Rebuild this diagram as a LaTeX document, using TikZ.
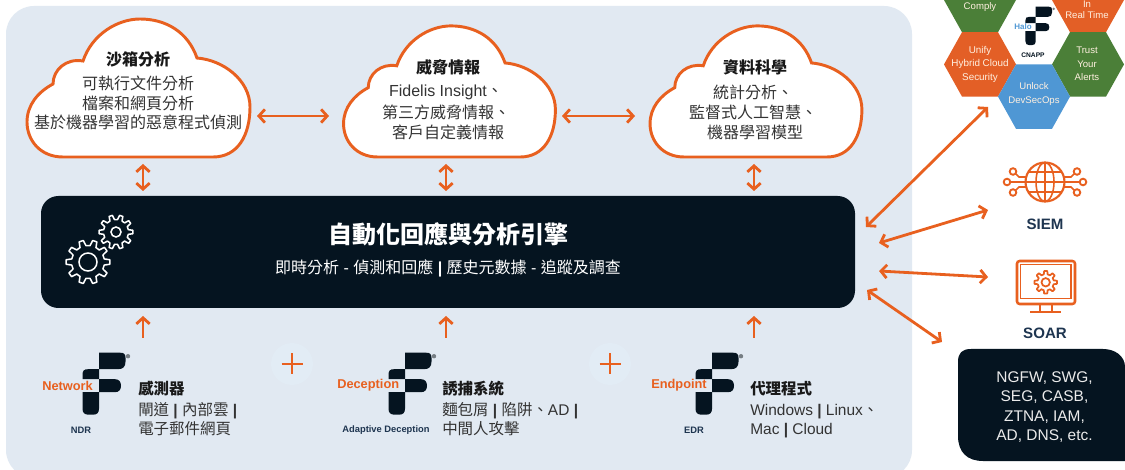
\documentclass[tikz,border=0pt]{standalone}
\usepackage{fontspec}
\usetikzlibrary{arrows.meta,calc}
\setmainfont{Liberation Sans}
\newfontfamily\cjk{Noto Sans CJK TC}
\definecolor{panel}{HTML}{E1E9F2}
\definecolor{plusbg}{HTML}{E2ECF5}
\definecolor{ink}{HTML}{051420}
\definecolor{org}{HTML}{E8601F}
\definecolor{hexorg}{HTML}{E35F26}
\definecolor{hexgrn}{HTML}{4B7F38}
\definecolor{hexblu}{HTML}{4F97D4}
\definecolor{navy}{HTML}{1E3550}
\definecolor{txt}{HTML}{333333}
\newcommand{\fsz}[1]{\fontsize{#1}{#1}\selectfont}
\newcommand{\fbs}[2]{\fontsize{#1}{#2}\selectfont}
\newcommand{\vb}{{\bfseries |}}
\tikzset{
  x=0.75pt,y=-0.75pt,
  link/.style={draw=org,line width=2.1pt,{Straight Barb[length=4.5pt,width=10pt,line width=2.1pt]}-{Straight Barb[length=4.5pt,width=10pt,line width=2.1pt]}},
  uplink/.style={draw=org,line width=2.1pt,-{Straight Barb[length=4.5pt,width=10pt,line width=2.1pt]}},
  cloudline/.style={draw=org,line width=2.2pt,fill=white},
  label/.style={inner sep=0pt,text=txt,align=center},
  head/.style={inner sep=0pt,text=black!90},
  hextxt/.style={inner sep=0pt,text=white!88!orange,align=center},
  icon/.style={draw=org,line width=1.6pt},
  crossmark/.style={draw=org,line width=2.2pt},
  plate/.style={circle,fill=plusbg,minimum size=31.5pt,inner sep=0pt},
  tag/.style={inner sep=0pt,text=org,font=\bfseries\fsz{9.6}},
  sub/.style={inner sep=0pt,text=navy,font=\bfseries\fsz{7}},
  icontxt/.style={inner sep=0pt,text=navy,font=\bfseries\fsz{11.3}},
}
% cloud: #1 centre x, #2 scale (bottom edge fixed at y=157)
\newcommand{\cloudshape}[2]{%
  \begin{scope}[shift={(#1,157)},scale=#2]
  \draw[cloudline] (-75,0)
   .. controls (-98,0) and (-111,-17) .. (-111,-35)
   .. controls (-111,-52) and (-100,-65) .. (-85,-73)
   .. controls (-85,-87) and (-72,-99) .. (-55,-96)
   .. controls (-46,-123) and (-20,-138) .. (2,-138)
   .. controls (28,-138) and (50,-125) .. (59,-99)
   .. controls (85,-97) and (112,-77) .. (112,-50)
   .. controls (112,-22) and (100,0) .. (75,0)
   -- cycle;
  \end{scope}}
% F logo: #1 x, #2 y of top left of the top bar, #3 scale
\newcommand{\flogo}[3]{%
  \begin{scope}[shift={(#1,#2)},scale=#3]
  \fill[ink] (0,0) -- (21,0) .. controls (25,0) and (26.5,1.5) .. (26.5,5) -- (26.5,9)
     .. controls (26.5,14) and (24,16.5) .. (19,16.5) -- (0,16.5) -- cycle;
  \fill[ink] (0,16.5) -- (0,26.5) -- (-16.5,26.5) -- (-16.5,22) .. controls (-16.5,18) and (-15,16.5) .. (-11,16.5) -- cycle;
  \fill[ink] (0,26.5) -- (16,26.5) .. controls (20,26.5) and (22,29) .. (22,33) .. controls (22,37) and (20,39.5) .. (16,39.5) -- (0,39.5) -- cycle;
  \fill[ink] (0,39.5) -- (0,56) .. controls (0,60) and (-2,62) .. (-6,62) -- (-10.5,62) .. controls (-14.5,62) and (-16.5,60) .. (-16.5,56) -- (-16.5,39.5) -- cycle;
  \fill[ink!55] (29,3.5) circle[radius=2.2];
  \end{scope}}
% gear: #1 x, #2 y, #3 outer r, #4 root r, #5 hole r, #6 teeth
\newcommand{\gear}[6]{%
  \pgfmathsetmacro{\gstep}{360/#6}
  \pgfmathsetmacro{\glast}{360-\gstep}
  \pgfmathsetmacro{\gnext}{\gstep}
  \begin{scope}[shift={(#1,#2)}]
  \path[draw=white,line width=1.15pt,line join=round] (-0.30*\gstep:#4)
    \foreach \a in {0,\gnext,...,\glast}{
      -- (\a-0.30*\gstep:#4) -- (\a-0.16*\gstep:#3) -- (\a+0.16*\gstep:#3) -- (\a+0.30*\gstep:#4)
      arc[start angle=\a+0.30*\gstep,end angle=\a+0.70*\gstep,radius=#4]
    } -- cycle;
  \draw[white,line width=1.15pt] (0,0) circle[radius=#5];
  \end{scope}}
\newcommand{\hexa}[3]{% x y colour
  \fill[#3] (#1-36,#2) -- (#1-18,#2-32.2) -- (#1+18,#2-32.2) -- (#1+36,#2) -- (#1+18,#2+32.2) -- (#1-18,#2+32.2) -- cycle;}
\begin{document}
\begin{tikzpicture}
\useasboundingbox (0,0) rectangle (1125,470);
\begin{scope}
\clip (0,0) rectangle (1125,470);
\fill[white] (0,0) rectangle (1125,470);
\fill[panel,rounded corners=21pt] (6,6) -- (912,6) -- (912,478) -- (6,478) -- cycle;

% hexagons
\hexa{1034}{-32.2}{hexblu}
\hexa{980}{0}{hexgrn}
\hexa{1088}{0}{hexorg}
\hexa{980}{64.4}{hexorg}
\hexa{1088}{64.4}{hexgrn}
\hexa{1034}{96.6}{hexblu}
\node[hextxt,font=\fsz{7.2}] (hcomply) at (980,7) {Comply};
\node[hextxt,font=\fsz{7.2}] (hin) at (1087,4.5) {In};
\node[hextxt,font=\fsz{7.2}] (hreal) at (1087,15) {Real Time};
\node[hextxt,font=\fbs{7.4}{10.1}] (hunify) at (980,64) {Unify\\Hybrid Cloud\\Security};
\node[hextxt,font=\fbs{7.2}{10.1}] (htrust) at (1087,64) {Trust\\Your\\Alerts};
\node[hextxt,font=\fbs{7.2}{10.1}] (hunlock) at (1034,94) {Unlock\\DevSecOps};
\flogo{1035.7}{6.7}{0.62}
\node[inner sep=0pt,text=hexblu,font=\bfseries\fsz{6}] (halo) at (1023,27) {Halo};
\node[inner sep=0pt,text=ink,font=\bfseries\fsz{5}] (cnapp) at (1033,55) {CNAPP};
\end{scope}

% clouds
\cloudshape{138}{1}
\cloudshape{449}{0.95}
\cloudshape{755.5}{0.95}
\node[head,font=\cjk\bfseries\fsz{12}] (c1t) at (138,59) {沙箱分析};
\node[label,font=\cjk\fsz{12}] (c1a) at (138,83) {可執行文件分析};
\node[label,font=\cjk\fsz{12}] (c1b) at (138,103) {檔案和網頁分析};
\node[label,font=\cjk\fsz{12}] (c1c) at (138,122) {基於機器學習的惡意程式偵測};
\node[head,font=\cjk\bfseries\fsz{12}] (c2t) at (448,67) {威脅情報};
\node[label,font=\fsz{12}] (c2a) at (446,92) {Fidelis Insight{\cjk 、}};
\node[label,font=\cjk\fsz{12}] (c2b) at (446,112) {第三方威脅情報、};
\node[label,font=\cjk\fsz{12}] (c2c) at (448,132) {客戶自定義情報};
\node[head,font=\cjk\bfseries\fsz{12}] (c3t) at (755,67) {資料科學};
\node[label,font=\cjk\fsz{12}] (c3a) at (753,92) {統計分析、};
\node[label,font=\cjk\fsz{12}] (c3b) at (753,112) {監督式人工智慧、};
\node[label,font=\cjk\fsz{12}] (c3c) at (755,132) {機器學習模型};

% engine
\fill[ink,rounded corners=13pt] (41,196) rectangle (855,308);
\gear{116}{232}{17}{12.5}{5}{10}
\gear{88}{262}{22}{16.5}{9}{10}
\node[inner sep=0pt,text=white,font=\cjk\bfseries\fsz{18}] (eng) at (448,234) {自動化回應與分析引擎};
\node[inner sep=0pt,text=white,font=\fsz{12}] (engs) at (448,268) {{\cjk 即時分析} - {\cjk 偵測和回應} \vb{} {\cjk 歷史元數據} - {\cjk 追蹤及調查}};

% plus signs
\node[plate] (p1) at (292,364) {};
\node[plate] (p2) at (610,364) {};
\draw[crossmark] (281.5,364) -- (302.5,364) (292,353.5) -- (292,374.5);
\draw[crossmark] (599.5,364) -- (620.5,364) (610,353.5) -- (610,374.5);

% logos and source text
\flogo{99}{352.7}{1}
\node[tag,anchor=west] (tn) at (42,386) {Network};
\node[sub] (tn2) at (81,430) {NDR};
\node[head,anchor=west,font=\cjk\bfseries\fsz{11.6}] (s1t) at (138,389) {感測器};
\node[label,anchor=base west,font=\fsz{11.6}] (s1a) at (138,416) {{\cjk 閘道} \vb{} {\cjk 內部雲} \vb};
\node[label,anchor=west,font=\cjk\fsz{11.6}] (s1b) at (138,429) {電子郵件網頁};

\flogo{405}{352.7}{1}
\node[tag,anchor=west] (td) at (337,385) {Deception};
\node[sub] (td2) at (386,430) {Adaptive Deception};
\node[head,anchor=west,font=\cjk\bfseries\fsz{11.6}] (s2t) at (442,389) {誘捕系統};
\node[label,anchor=base west,font=\fsz{11.6}] (s2a) at (442,415.5) {{\cjk 麵包屑} \vb{} {\cjk 陷阱、}AD \vb};
\node[label,anchor=west,font=\cjk\fsz{11.6}] (s2b) at (442,429) {中間人攻擊};

\flogo{712}{352.7}{1}
\node[tag,anchor=west] (te) at (651,385) {Endpoint};
\node[sub] (te2) at (694,430) {EDR};
\node[head,anchor=west,font=\cjk\bfseries\fsz{11.6}] (s3t) at (750,389) {代理程式};
\node[label,anchor=base west,font=\fsz{11.6}] (s3a) at (750,415.5) {Windows \vb{} Linux{\cjk 、}};
\node[label,anchor=base west,font=\fsz{11.6}] (s3b) at (750,435) {Mac \vb{} Cloud};

% SIEM icon
\begin{scope}[shift={(1045,182)}]
  \draw[icon] (0,0) circle[radius=19.5];
  \draw[icon,line width=1.2pt] (0,0) ellipse[x radius=9,y radius=19.5];
  \draw[icon,line width=1.2pt] (0,-19.5) -- (0,19.5) (-19.5,0) -- (19.5,0) (-16,-10) -- (16,-10) (-16,10) -- (16,10);
  \foreach \s in {-1,1}{
    \begin{scope}[xscale=\s]
    \draw[icon,line width=1.2pt] (19,-5) -- (26,-5) -- (30,-9);
    \draw[icon,line width=1.2pt] (19,0) -- (35,0);
    \draw[icon,line width=1.2pt] (19,5) -- (26,5) -- (30,9);
    \draw[icon,line width=1.4pt,fill=white] (32,-10.5) circle[radius=3.3];
    \draw[icon,line width=1.4pt,fill=white] (38,0) circle[radius=3.3];
    \draw[icon,line width=1.4pt,fill=white] (32,10.5) circle[radius=3.3];
    \end{scope}}
\end{scope}
\node[icontxt] (siem) at (1045,224) {SIEM};

% SOAR icon
\draw[icon,line width=1.9pt,rounded corners=2pt] (1017,261) rectangle (1075,304);
\draw[draw=org,line width=1pt] (1020.7,264.5) rectangle (1071,298.3);
\draw[icon,line width=1.4pt] (1040,304) -- (1040,312) (1051.7,304) -- (1051.7,312);
\draw[icon,line width=1.9pt] (1030,312) -- (1061,312);
\begin{scope}[shift={(1045.7,282.3)}]
  \path[draw=org,line width=1.3pt,line join=round] (-13.5:8.2)
    \foreach \a in {0,45,...,315}{
      -- (\a-13.5:8.2) -- (\a-8:11.3) -- (\a+8:11.3) -- (\a+13.5:8.2)
      arc[start angle=\a+13.5,end angle=\a+31.5,radius=8.2]
    } -- cycle;
  \draw[org,line width=1.3pt] (0,0) circle[radius=4.2];
\end{scope}
\node[icontxt] (soar) at (1045,333) {SOAR};

% dark list
\fill[ink] (971,349) -- (1103,349) .. controls (1115,349) and (1125,356) .. (1125,367)
  -- (1125,461) -- (983,461) .. controls (967,461) and (958,452) .. (958,436)
  -- (958,362) .. controls (958,353) and (962,349) .. (971,349) -- cycle;
\node[inner sep=0pt,text=white!92!black,align=center,font=\fbs{11.6}{14.5}] (lst) at (1044.5,407) {NGFW, SWG,\\SEG, CASB,\\ZTNA, IAM,\\AD, DNS, etc.};

% connector ends
\coordinate (a1) at (257,116); \coordinate (a2) at (329,116);
\coordinate (b1) at (562,116); \coordinate (b2) at (635,116);
\coordinate (c1a1) at (143,164); \coordinate (c1a2) at (143,191);
\coordinate (c2a1) at (446,164); \coordinate (c2a2) at (446,191);
\coordinate (c3a1) at (754,164); \coordinate (c3a2) at (754,191);
\coordinate (u1a) at (143,338); \coordinate (u1b) at (143,316);
\coordinate (u2a) at (446,338); \coordinate (u2b) at (446,316);
\coordinate (u3a) at (754,338); \coordinate (u3b) at (754,316);
\coordinate (r1a) at (866,227); \coordinate (r1b) at (988,107);
\coordinate (r2a) at (879,243); \coordinate (r2b) at (988,210);
\coordinate (r3a) at (879,271); \coordinate (r3b) at (988,277);
\coordinate (r4a) at (867,290); \coordinate (r4b) at (942,342);
\draw[link] (a1) -- (a2);
\draw[link] (b1) -- (b2);
\draw[link] (c1a1) -- (c1a2);
\draw[link] (c2a1) -- (c2a2);
\draw[link] (c3a1) -- (c3a2);
\draw[uplink] (u1a) -- (u1b);
\draw[uplink] (u2a) -- (u2b);
\draw[uplink] (u3a) -- (u3b);
\draw[link] (r1a) -- (r1b);
\draw[link] (r2a) -- (r2b);
\draw[link] (r3a) -- (r3b);
\draw[link] (r4a) -- (r4b);
\end{tikzpicture}
\end{document}
